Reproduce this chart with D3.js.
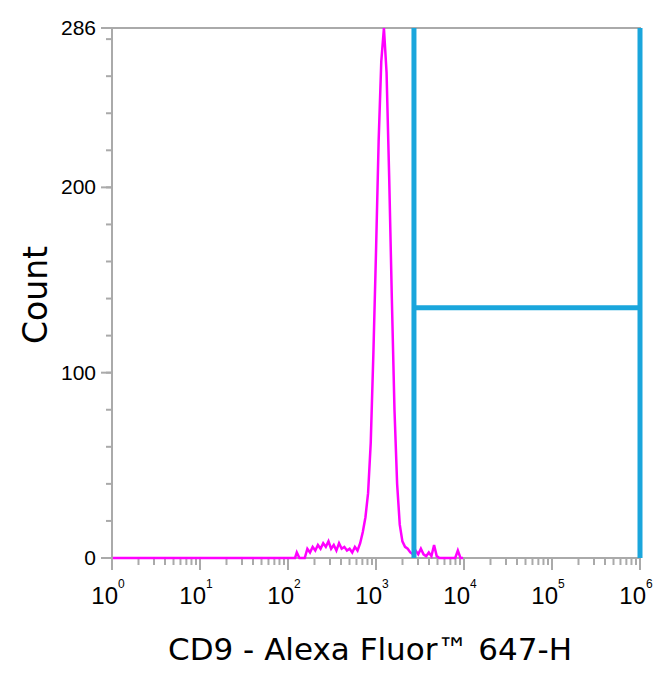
<!DOCTYPE html>
<html><head><meta charset="utf-8">
<script src="https://cdn.jsdelivr.net/npm/d3@7"></script>
<style>body{margin:0;background:#fff}text{font-family:"DejaVu Sans",Verdana,sans-serif}.tk{font-family:"Liberation Sans Narrow","Liberation Sans",Arial,sans-serif}</style>
</head><body>
<script>
// histogram bins (log10 of intensity) and counts
const logBins = [2.08,2.10,2.13,2.16,2.19,2.22,2.25,2.28,2.31,2.34,2.37,2.40,2.43,2.46,2.49,2.52,2.55,2.58,2.61,2.64,2.67,2.70,2.73,2.76,2.79,2.82,2.85,2.88,2.91,2.94,2.97,3.00,3.03,3.06,3.09,3.12,3.15,3.18,3.21,3.24,3.27,3.30,3.33,3.36,3.39,3.42,3.45,3.48,3.51,3.54,3.57,3.60,3.63,3.66,3.69,3.72,3.75,3.78,3.81,3.84,3.87,3.90,3.93,3.96];
const counts = [0,3,0,0,0,5,3,6,4,7,5,8,6,9,5,7,4,8,5,6,4,5,3,6,4,8,14,22,35,62,110,165,225,268,286,262,205,140,80,40,18,9,6,5,3,2,4,2,5,2,1,3,1,7,1,0,0,0,0,0,0,0,4,0];
const gateX = [2700, 1e6];
const gateY = 135;
const yTicks = [0, 100, 200, 286];
const xDecades = [0, 1, 2, 3, 4, 5, 6];

const W = 667, H = 682;
const svg = d3.select('body').append('svg').attr('width', W).attr('height', H);
const x = d3.scaleLog().domain([1, 1e6]).range([112, 640]);
const y = d3.scaleLinear().domain([0, 286]).range([558, 28]);
const grey = '#aaa';

// frame
svg.append('rect').attr('x', 112).attr('y', 28).attr('width', 528).attr('height', 530)
  .attr('fill', 'none').attr('stroke', grey).attr('stroke-width', 2);

// x ticks
const minor = [];
for (let d = 0; d < 6; d++) for (let m = 2; m < 10; m++) minor.push(m * Math.pow(10, d));
svg.selectAll('line.xm').data(minor).enter().append('line')
  .attr('x1', d => x(d)).attr('x2', d => x(d)).attr('y1', 559).attr('y2', 565)
  .attr('stroke', grey).attr('stroke-width', 2);
svg.selectAll('line.xM').data(xDecades).enter().append('line')
  .attr('x1', d => x(Math.pow(10, d))).attr('x2', d => x(Math.pow(10, d))).attr('y1', 559).attr('y2', 570)
  .attr('stroke', grey).attr('stroke-width', 2);
const xl = svg.selectAll('text.xl').data(xDecades).enter().append('text').attr('class', 'tk')
  .attr('x', d => x(Math.pow(10, d)) - 4).attr('y', 604).attr('text-anchor', 'middle')
  .attr('font-size', 24);
xl.append('tspan').text('10');
xl.append('tspan').attr('dy', -16).attr('font-size', 12).text(d => d);

// y ticks
svg.selectAll('line.ym').data(d3.range(0, 286, 20)).enter().append('line')
  .attr('x1', 106).attr('x2', 112).attr('y1', d => y(d)).attr('y2', d => y(d))
  .attr('stroke', grey).attr('stroke-width', 2);
svg.selectAll('line.yM').data(yTicks).enter().append('line')
  .attr('x1', 101).attr('x2', 112).attr('y1', d => y(d)).attr('y2', d => y(d))
  .attr('stroke', grey).attr('stroke-width', 2);
svg.selectAll('text.yl').data(yTicks).enter().append('text').attr('class', 'tk')
  .attr('x', 96).attr('y', d => y(d) + 7).attr('text-anchor', 'end').attr('font-size', 21)
  .text(d => d);

// histogram
const pts = [[Math.pow(10, 0.01), 0]].concat(logBins.map((b, i) => [Math.pow(10, b), counts[i]]));
pts.push([Math.pow(10, 3.99), 0]);
svg.append('path').datum(pts)
  .attr('d', d3.line().x(d => x(d[0])).y(d => y(d[1])))
  .attr('fill', 'none').attr('stroke', '#ff00ff').attr('stroke-width', 2.5);

// gate
const blue = '#1aa6dc';
gateX.forEach(g => svg.append('line').attr('x1', x(g)).attr('x2', x(g)).attr('y1', y(286)).attr('y2', y(0))
  .attr('stroke', blue).attr('stroke-width', 5));
svg.append('line').attr('x1', x(gateX[0])).attr('x2', x(gateX[1])).attr('y1', y(gateY)).attr('y2', y(gateY))
  .attr('stroke', blue).attr('stroke-width', 5);

// titles
svg.append('text').attr('x', 370).attr('y', 660).attr('text-anchor', 'middle').attr('font-size', 31)
  .text('CD9 - Alexa Fluor™ 647-H');
svg.append('text').attr('transform', 'translate(47,295) rotate(-90)').attr('text-anchor', 'middle')
  .attr('font-size', 33).text('Count');
</script>
</body></html>
